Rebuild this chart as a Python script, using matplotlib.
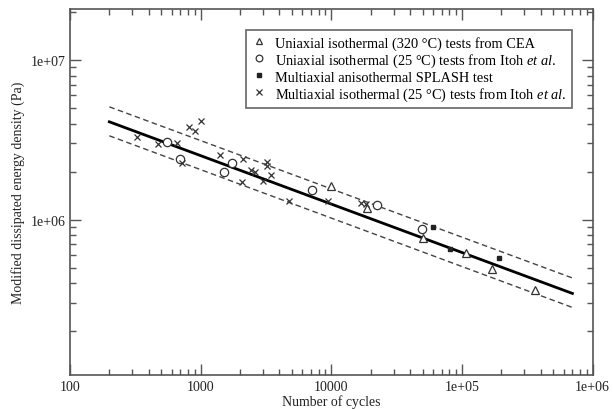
import numpy as np
import matplotlib
matplotlib.use('Agg')
import matplotlib.pyplot as plt
from matplotlib.ticker import FixedLocator, FixedFormatter, LogLocator, NullFormatter

plt.rcParams['font.family'] = ['Liberation Serif', 'DejaVu Serif']
plt.rcParams['mathtext.fontset'] = 'custom'
plt.rcParams['mathtext.rm'] = 'Liberation Serif'
plt.rcParams['mathtext.it'] = 'Liberation Serif:italic'

# DATA
# -----------------------------------------------------------------------------------------------
# Uniaxial isothermal (320 C), CEA
cea_n = [10030, 18800, 50100, 108000, 170000, 363000]
cea_w = [1.63e6, 1.18e6, 7.66e5, 6.16e5, 4.93e5, 3.63e5]

# Uniaxial isothermal (25 C), Itoh
itoh_uni_n = [549, 694, 1505, 1725, 7060, 22300, 49200]
itoh_uni_w = [3.05e6, 2.40e6, 1.98e6, 2.26e6, 1.53e6, 1.23e6, 8.7e5]

# Multiaxial anisothermal SPLASH
splash_n = [60100, 80500, 191000]
splash_w = [9.0e5, 6.53e5, 5.76e5]

# Multiaxial isothermal (25 C), Itoh
itoh_multi_n = [324, 469, 662, 715, 817, 904, 1004, 1403, 2115, 2057, 2410, 2600,
                3194, 3194, 2978, 3427, 4755, 9460, 17000, 18300]
itoh_multi_w = [3.27e6, 2.97e6, 3.0e6, 2.25e6, 3.78e6, 3.6e6, 4.13e6, 2.54e6, 2.4e6, 1.73e6,
                2.04e6, 2.0e6, 2.3e6, 2.17e6, 1.74e6, 1.91e6, 1.31e6, 1.30e6, 1.27e6, 1.25e6]

# fit line and scatter band
fit_n = [200, 7.0e5]
fit_w = [4.1e6, 3.44e5]
upper_w = [5.09e6, 4.30e5]
lower_w = [3.35e6, 2.81e5]

xticks = [100, 1000, 10000, 1e5, 1e6]
xtick_labels = ['100', '1000', '10000', '1e+05', '1e+06']
yticks = [1e6, 1e7]
ytick_labels = ['1e+06', '1e+07']

# PLOT
# -----------------------------------------------------------------------------------------------
fig = plt.figure(figsize=(6.13, 4.10), dpi=100)
ax = fig.add_axes([0.1142, 0.083, 0.8526, 0.8926])
ax.set_xscale('log')
ax.set_yscale('log')

mcol = '#333333'
ax.plot(fit_n, fit_w, color='black', lw=2.0, zorder=3)
ax.plot(fit_n, upper_w, color='#444444', lw=1.0, ls=(0, (4, 2.5)), zorder=2)
ax.plot(fit_n, lower_w, color='#444444', lw=1.0, ls=(0, (4, 2.5)), zorder=2)

ax.plot(cea_n, cea_w, ls='none', marker='^', ms=6, mfc='white', mec=mcol, mew=0.9,
        label='Uniaxial isothermal (320 °C) tests from CEA', zorder=4)
ax.plot(itoh_uni_n, itoh_uni_w, ls='none', marker='o', ms=6, mfc='white', mec=mcol, mew=0.9,
        label=r'Uniaxial isothermal (25 °C) tests from Itoh $\it{et\ al.}$', zorder=4)
ax.plot(splash_n, splash_w, ls='none', marker='s', ms=3.5, mfc='#222222', mec='#222222',
        label='Multiaxial anisothermal SPLASH test', zorder=4)
ax.plot(itoh_multi_n, itoh_multi_w, ls='none', marker='x', ms=5, mec=mcol, mew=0.9,
        label=r'Multiaxial isothermal (25 °C) tests from Itoh $\it{et\ al.}$', zorder=4)

ax.set_xlim(100, 1e6)
ax.set_ylim(1.06e5, 2.09e7)

ax.xaxis.set_major_locator(FixedLocator(xticks))
ax.xaxis.set_major_formatter(FixedFormatter(xtick_labels))
ax.xaxis.set_minor_locator(LogLocator(base=10, subs=np.arange(2, 10), numticks=20))
ax.xaxis.set_minor_formatter(NullFormatter())
ax.yaxis.set_major_locator(FixedLocator(yticks))
ax.yaxis.set_major_formatter(FixedFormatter(ytick_labels))
ax.yaxis.set_minor_locator(LogLocator(base=10, subs=np.arange(2, 10), numticks=20))
ax.yaxis.set_minor_formatter(NullFormatter())

ax.tick_params(which='both', direction='in', top=True, right=True, colors='#555555',
               labelcolor='#222222', labelsize=10)
ax.tick_params(which='major', length=8, width=1)
ax.tick_params(which='minor', length=4, width=1)
for s in ax.spines.values():
    s.set_color('#555555')
    s.set_linewidth(1.2)

ax.set_xlabel('Number of cycles', fontsize=10, color='#222222', labelpad=1)
ax.set_ylabel('Modified dissipated energy density (Pa)', fontsize=10, color='#222222', labelpad=4)

leg = ax.legend(loc='upper right', bbox_to_anchor=(0.961, 0.943), fontsize=10.4,
                frameon=True, fancybox=False, edgecolor='#666666', framealpha=1,
                handlelength=1.0, handletextpad=0.6, labelspacing=0.12, borderpad=0.4,
                borderaxespad=0, markerscale=0.8)
leg.get_frame().set_linewidth(1.2)

fig.savefig('out.png', dpi=100)
